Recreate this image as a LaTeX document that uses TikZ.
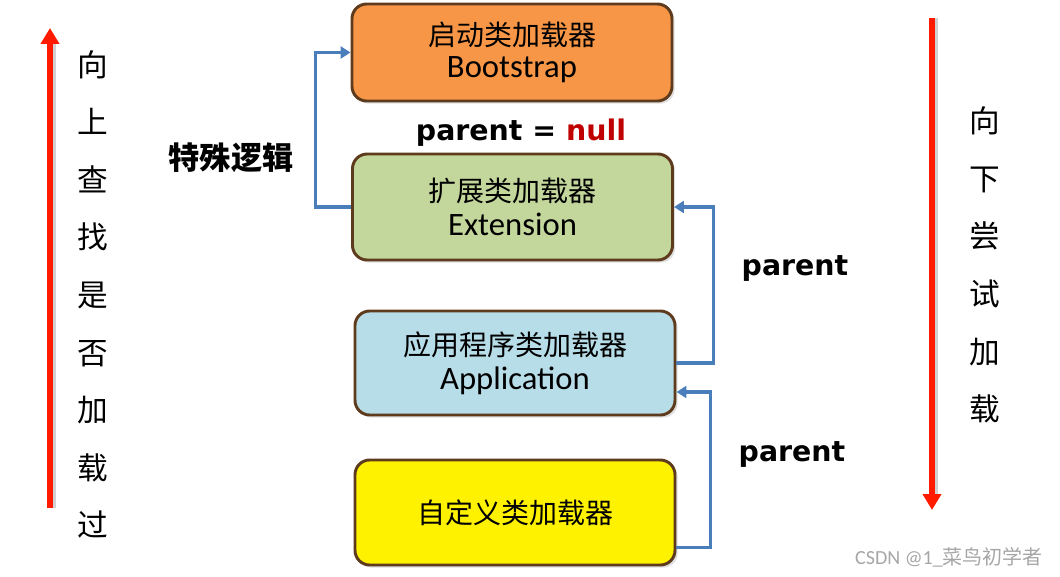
\documentclass[tikz,border=0pt]{standalone}
\usepackage{fontspec}
\setmainfont{Carlito}
\newfontfamily\cjk{Noto Sans CJK SC}
\newfontfamily\labfont{DejaVu Sans}
\usetikzlibrary{arrows.meta,shadows}
\definecolor{bordbrown}{HTML}{5E3B1C}
\definecolor{orangefill}{HTML}{F79646}
\definecolor{greenfill}{HTML}{C3D69B}
\definecolor{bluefill}{HTML}{B7DDE8}
\definecolor{yellowfill}{HTML}{FFF200}
\definecolor{connblue}{HTML}{4A7EBB}
\definecolor{nullred}{HTML}{C00000}
\definecolor{arrred}{HTML}{FF1A00}
\tikzset{
  loaderbox/.style={draw=bordbrown, line width=2.2pt, rounded corners=11pt,
    minimum width=240pt, align=center, inner sep=0pt,
    drop shadow={opacity=0.25, shadow xshift=2pt, shadow yshift=-2pt}},
  conn/.style={draw=connblue, line width=2.3pt, -{Triangle[length=7.5pt,width=9pt]}},
  redarrow/.style={draw=arrred, line width=3.8pt, -{Triangle[length=12pt,width=13.5pt]}},
  redshadow/.style={draw=black!18, line width=3.8pt},
  boldlab/.style={font=\labfont\bfseries\fontsize{21.3}{24}\selectfont, inner sep=0pt},
  vtext/.style={font=\cjk\fontsize{23}{43.2}\selectfont, align=center, inner sep=0pt},
}
\newcommand{\cn}[1]{{\cjk\fontsize{21}{24}\selectfont #1}}
\newcommand{\en}[1]{{\fontsize{24.5}{24}\selectfont #1}}
\begin{document}
\begin{tikzpicture}[x=0.75pt,y=-0.75pt]
\useasboundingbox (0,0) rectangle (1060,577);

% boxes
\node[loaderbox, fill=orangefill, minimum height=72.75pt] (boot) at (512,52.5)
  {\cn{启动类加载器}\\[6pt]\en{Bootstrap}};
\node[loaderbox, fill=greenfill, minimum height=79.5pt] (ext) at (512.5,207)
  {\cn{扩展类加载器}\\[6pt]\en{Extension}};
\node[loaderbox, fill=bluefill, minimum height=78pt] (app) at (515,363)
  {\cn{应用程序类加载器}\\[6pt]\en{Application}};
\node[loaderbox, fill=yellowfill, minimum height=78.75pt] (cust) at (515,512.5)
  {\cn{自定义类加载器}};

% connectors
\draw[conn] (ext.west) -- ++(-36,0) |- (boot.west);
\draw[conn] (app.east) -- ++(37,0) |- (ext.east);
\draw[conn] ([yshift=-26.5pt]cust.east) -- ++(34,0) |- ([yshift=-21.75pt]app.east);

% labels
\node[boldlab] (pnull) at (521,133) {parent = \textcolor{nullred}{null}};
\node[boldlab] (p1) at (795,268) {parent};
\node[boldlab] (p2) at (792,454) {parent};
\node[font=\cjk\bfseries\fontsize{23.4}{26}\selectfont, inner sep=0pt] (special) at (231,158) {特殊逻辑};

% red arrows
\coordinate (lbot) at (50,508);
\coordinate (ltop) at (50,28);
\coordinate (rtop) at (932,18);
\coordinate (rbot) at (932,510);
\draw[redshadow] ([xshift=2.5pt]lbot) -- ([xshift=2.5pt,yshift=-10pt]ltop);
\draw[redarrow] (lbot) -- (ltop);
\draw[redshadow] ([xshift=2.5pt]rtop) -- ([xshift=2.5pt,yshift=10pt]rbot);
\draw[redarrow] (rtop) -- (rbot);

% vertical texts
\node[vtext] (up) at (93,294.5) {向\\上\\查\\找\\是\\否\\加\\载\\过};
\node[vtext] (down) at (985,265) {向\\下\\尝\\试\\加\\载};

% watermark
\node[font=\fontsize{15}{18}\selectfont, text=black!35, inner sep=0pt, anchor=east] (wm) at (1043,557)
  {CSDN @1\_{\cjk 菜鸟初学者}};
\end{tikzpicture}
\end{document}
